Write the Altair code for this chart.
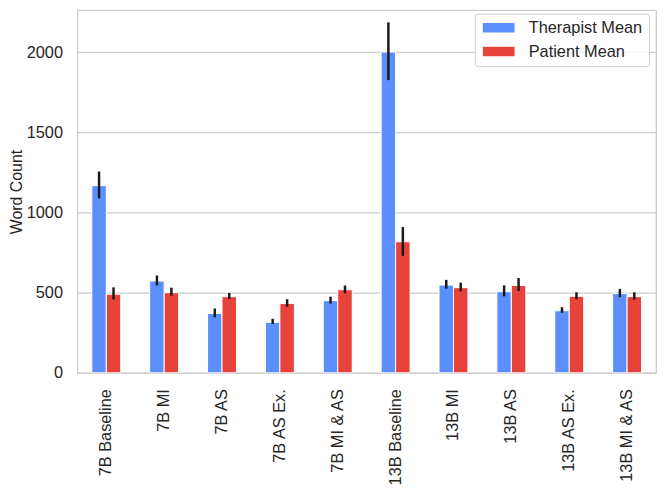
import altair as alt
import pandas as pd

categories = ["7B Baseline", "7B MI", "7B AS", "7B AS Ex.", "7B MI & AS",
              "13B Baseline", "13B MI", "13B AS", "13B AS Ex.", "13B MI & AS"]
series = ["Therapist Mean", "Patient Mean"]
therapist_mean = [1167, 572, 370, 315, 450, 2000, 547, 506, 387, 494]
therapist_lo = [1088, 545, 346, 305, 432, 1825, 525, 477, 375, 471]
therapist_hi = [1255, 607, 401, 337, 475, 2185, 580, 545, 409, 523]
patient_mean = [490, 500, 475, 432, 518, 817, 531, 545, 477, 475]
patient_lo = [457, 481, 461, 412, 496, 730, 508, 510, 459, 457]
patient_hi = [533, 531, 498, 459, 545, 909, 562, 591, 502, 502]
colors = ["#5A8FFD", "#E8433A"]
y_ticks = [0, 500, 1000, 1500, 2000]

rows = []
for i, c in enumerate(categories):
    rows.append({"cat": c, "series": series[0], "mean": therapist_mean[i],
                 "lo": therapist_lo[i], "hi": therapist_hi[i]})
    rows.append({"cat": c, "series": series[1], "mean": patient_mean[i],
                 "lo": patient_lo[i], "hi": patient_hi[i]})
df = pd.DataFrame(rows)

font = "Liberation Sans"
x_enc = alt.X("cat:N", sort=categories, title=None,
              scale=alt.Scale(paddingInner=0.5, paddingOuter=0.25),
              axis=alt.Axis(labelAngle=270, labelFontSize=16.5, labelFont=font,
                            labelColor="#262626", ticks=False, tickSize=0,
                            labelPadding=16, domain=False, grid=False))
xo_enc = alt.XOffset("series:N", sort=series,
                     scale=alt.Scale(domain=series, paddingInner=0, paddingOuter=0))
y_scale = alt.Scale(domain=[0, 2261], nice=False, zero=True)

bars = alt.Chart(df).mark_bar(stroke="white", strokeWidth=1).encode(
    x=x_enc,
    xOffset=xo_enc,
    y=alt.Y("mean:Q", scale=y_scale, title="Word Count",
            axis=alt.Axis(values=y_ticks, format="d", labelFontSize=16.5, labelFont=font,
                          labelColor="#262626", ticks=False, tickSize=0,
                          labelPadding=15, domain=False, grid=True,
                          gridColor="#cccccc", gridWidth=1.2,
                          titleFontSize=16, titleFont=font, titleFontWeight="normal",
                          titleColor="#262626", titlePadding=2)),
    color=alt.Color("series:N", sort=series,
                    scale=alt.Scale(domain=series, range=colors),
                    legend=alt.Legend(title=None, orient="none", legendX=401, legendY=3.5,
                                      symbolType="M-0.75,-0.6H3.25V0.6H-0.75Z", symbolSize=256,
                                      symbolStrokeWidth=0, symbolOpacity=1,
                                      labelFontSize=16.5, labelFont=font, labelColor="#262626",
                                      labelOffset=32, rowPadding=7, padding=6,
                                      strokeColor="#cccccc", cornerRadius=3,
                                      fillColor="rgba(255,255,255,0.85)")),
)

errs = alt.Chart(df).mark_rule(color="#1a1a1a", strokeWidth=2.5).encode(
    x=alt.X("cat:N", sort=categories),
    xOffset=xo_enc,
    y=alt.Y("lo:Q", scale=y_scale),
    y2="hi:Q",
)

chart = alt.layer(bars, errs).properties(
    width=584, height=366,
    padding={"left": 0, "top": 0, "right": 2, "bottom": 0},
).configure_view(stroke="#cccccc", strokeWidth=1.25)

chart.save("out.html", embed_options={"renderer": "svg", "actions": False})
